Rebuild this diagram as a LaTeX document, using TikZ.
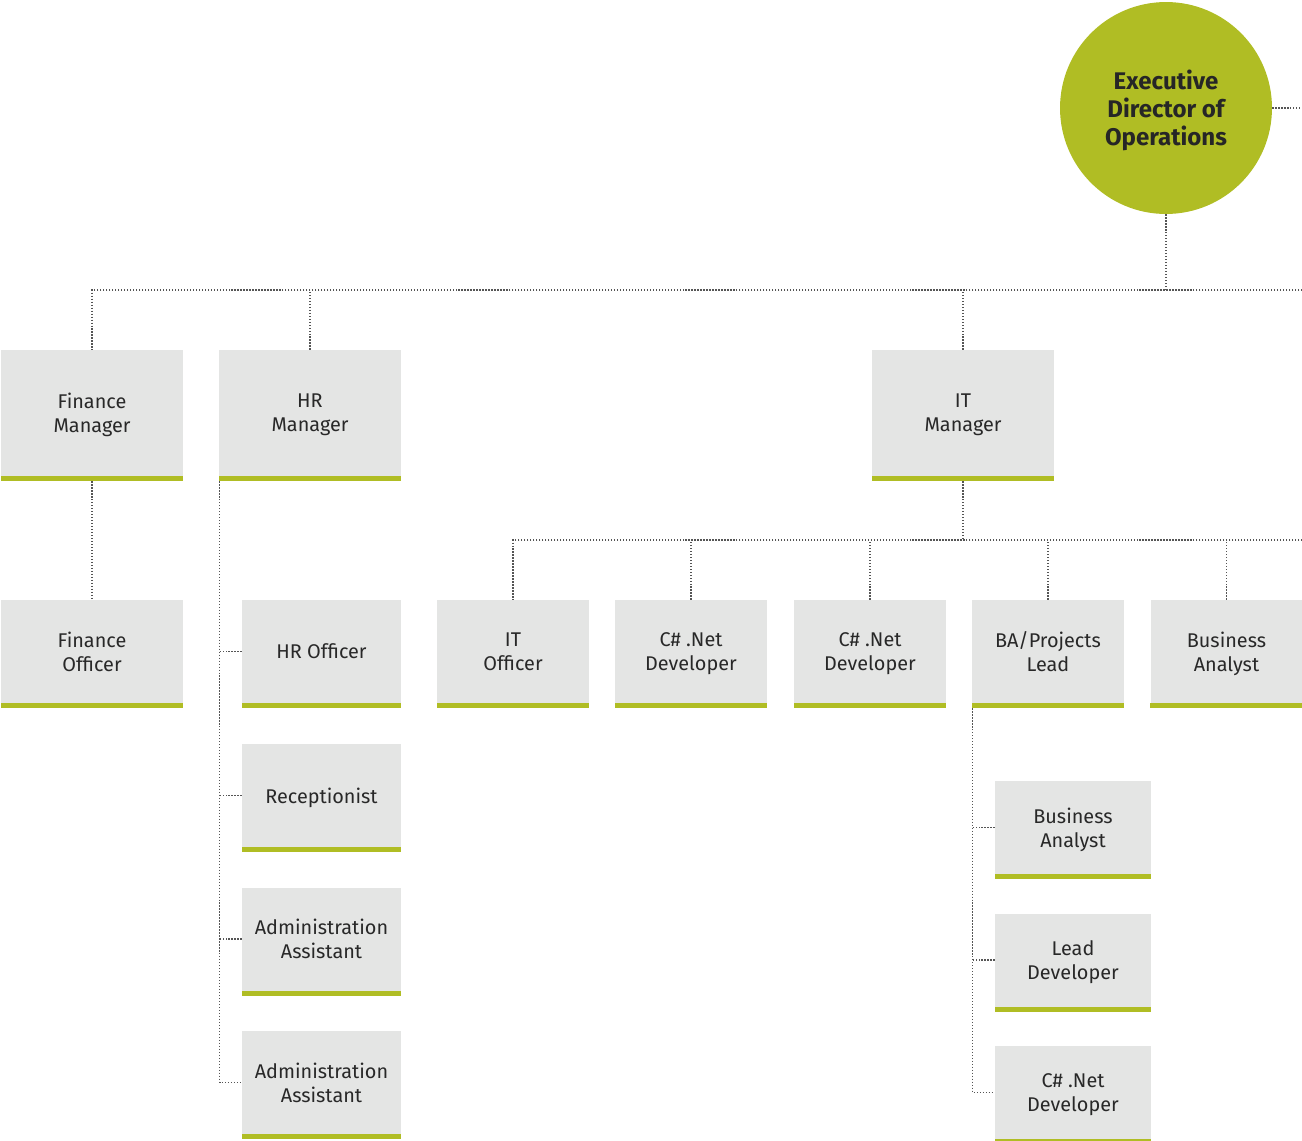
\documentclass[tikz,border=0pt]{standalone}
\usepackage{fontspec}
\setmainfont{Fira Sans}
\usetikzlibrary{positioning}
\definecolor{olive}{RGB}{176,189,36}
\definecolor{boxgray}{RGB}{228,229,228}
\definecolor{inkgray}{RGB}{40,40,40}
\definecolor{linegray}{RGB}{85,85,85}

\begin{document}
\begin{tikzpicture}[x=0.02cm,y=-0.02cm,
  font=\fontsize{11.3}{13.6}\selectfont, text=inkgray,
  role/.style={fill=boxgray,inner sep=0pt,align=center,text depth=0pt,minimum width=#1},
  mgr/.style={role=3.64cm,minimum height=2.52cm},
  staff/.style={role=#1,minimum height=2.06cm},
  sub/.style={role=3.12cm,minimum height=1.86cm},
  head/.style={circle,fill=olive,minimum size=4.24cm,inner sep=0pt,align=center,text depth=0pt,
    font=\bfseries\fontsize{13.7}{15.9}\selectfont,text=black!85},
  link/.style={draw=linegray,line width=0.6pt,dash pattern=on 0.7pt off 1pt}
]
  \useasboundingbox (0,0) rectangle (1302,1140);

  % top of the tree
  \node[head] (exec) at (1166,108) {Executive\\Director of\\Operations};
  \node[mgr] (finmgr) at (92,413) {Finance\\Manager};
  \node[mgr] (hrmgr) at (310,413) {HR\\Manager};
  \node[mgr] (itmgr) at (963,413) {IT\\Manager};

  % finance and hr
  \node[staff=3.64cm] (finoff) at (92,651.5) {Finance\\Officer};
  \node[staff=3.18cm] (hroff) at (321.5,651.5) {HR Officer};
  \node[staff=3.18cm] (recep) at (321.5,795.5) {Receptionist};
  \node[staff=3.18cm] (admin1) at (321.5,939) {Administration\\Assistant};
  \node[staff=3.18cm] (admin2) at (321.5,1082.5) {Administration\\Assistant};

  % it
  \node[staff=3.04cm] (itoff) at (513,651.5) {IT\\Officer};
  \node[staff=3.04cm] (dev1) at (691,651.5) {C\# .Net\\Developer};
  \node[staff=3.04cm] (dev2) at (870,651.5) {C\# .Net\\Developer};
  \node[staff=3.04cm] (balead) at (1048,651.5) {BA/Projects\\Lead};
  \node[staff=3.04cm] (bizan1) at (1226.5,651.5) {Business\\Analyst};
  \node[sub] (bizan2) at (1073,827.5) {Business\\Analyst};
  \node[sub] (leaddev) at (1073,960) {Lead\\Developer};
  \node[sub] (dev3) at (1073,1092.5) {C\# .Net\\Developer};

  \foreach \n in {finmgr,hrmgr,itmgr,finoff,hroff,recep,admin1,admin2,itoff,dev1,dev2,balead,bizan1,bizan2,leaddev,dev3}
    \fill[olive] (\n.south west) rectangle ([yshift=-0.1cm]\n.south east);

  % connectors
  \coordinate (edgeR) at (1302,108);
  \coordinate (busR) at (1302,290);
  \coordinate (itbusR) at (1302,540);
  \coordinate (hrspine) at ([xshift=0.02cm,yshift=-0.1cm]hrmgr.south west);
  \coordinate (baspine) at ([xshift=0.02cm,yshift=-0.1cm]balead.south west);

  \draw[link] (exec.east) -- (edgeR);
  \draw[link] (exec.south) -- (exec.south |- busR);
  \draw[link] (busR) -| (finmgr.north);
  \draw[link] (hrmgr.north) -- (hrmgr.north |- busR);
  \draw[link] (itmgr.north) -- (itmgr.north |- busR);

  \draw[link] ([yshift=-0.1cm]finmgr.south) -- (finoff.north);

  \draw[link] (hrspine) |- (admin2.west);
  \foreach \n in {hroff,recep,admin1}
    \draw[link] (\n.west) -- (\n.west -| hrspine);

  \draw[link] ([yshift=-0.1cm]itmgr.south) -- (itmgr.south |- itbusR);
  \draw[link] (itbusR) -| (itoff.north);
  \foreach \n in {dev1,dev2,balead,bizan1}
    \draw[link] (\n.north) -- (\n.north |- itbusR);

  \draw[link] (baspine) |- (dev3.west);
  \foreach \n in {bizan2,leaddev}
    \draw[link] (\n.west) -- (\n.west -| baspine);
\end{tikzpicture}
\end{document}
